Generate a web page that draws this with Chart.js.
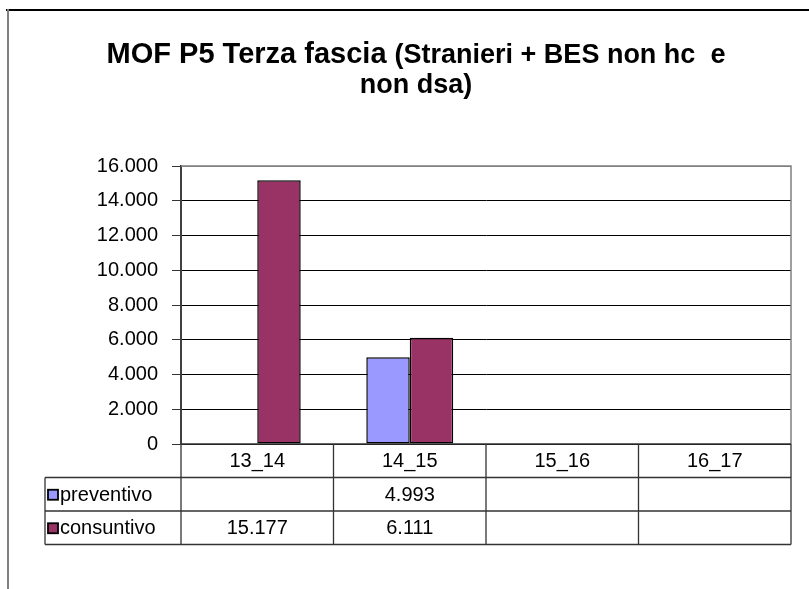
<!DOCTYPE html>
<html><head><meta charset="utf-8">
<script src="https://cdn.jsdelivr.net/npm/chart.js@4"></script>
<style>html,body{margin:0;padding:0;background:#fff}canvas{display:block}</style>
</head><body>
<div style="width:809px;height:589px"><canvas id="c" width="809" height="589"></canvas></div>
<script>
const categories = ['13_14', '14_15', '15_16', '16_17'];
const seriesNames = ['preventivo', 'consuntivo'];
const preventivo = [null, 4993, null, null];
const consuntivo = [15177, 6111, null, null];
const yMin = 0, yMax = 16000, yStep = 2000;
const titleBig = 'MOF P5 Terza fascia ';
const titleSmall = '(Stranieri + BES non hc  e';
const titleLine2 = 'non dsa)';
const colors = ['#9999FF', '#993366'];

const FONT = '"Liberation Sans", Arial, sans-serif';
function fmt(v) { if (v == null) return ''; return String(Math.round(v)).replace(/\B(?=(\d{3})+(?!\d))/g, '.'); }

const decor = {
  id: 'decor',
  beforeDraw(chart) {
    const ctx = chart.ctx;
    ctx.save();
    ctx.fillStyle = '#fff';
    ctx.fillRect(0, 0, chart.width, chart.height);
    // outer border
    ctx.strokeStyle = '#000'; ctx.lineWidth = 2;
    ctx.beginPath(); ctx.moveTo(6, 10); ctx.lineTo(chart.width, 10); ctx.stroke();
    ctx.strokeStyle = '#808080';
    ctx.beginPath(); ctx.moveTo(8, 9); ctx.lineTo(8, chart.height); ctx.stroke();
    // title
    ctx.fillStyle = '#000';
    ctx.textBaseline = 'alphabetic';
    ctx.font = 'bold 29px ' + FONT;
    const w1 = ctx.measureText(titleBig).width;
    ctx.font = 'bold 27px ' + FONT;
    const w2 = ctx.measureText(titleSmall).width;
    const cx = 416;
    let x = cx - (w1 + w2) / 2;
    ctx.textAlign = 'left';
    ctx.font = 'bold 29px ' + FONT;
    ctx.fillText(titleBig, x, 63);
    ctx.font = 'bold 27px ' + FONT;
    ctx.fillText(titleSmall, x + w1, 63);
    ctx.textAlign = 'center';
    ctx.fillText(titleLine2, cx, 93);
    ctx.restore();
  },
  afterDraw(chart) {
    const ctx = chart.ctx;
    const a = chart.chartArea;
    const xs = chart.scales.x;
    ctx.save();
    // plot area right/top border
    ctx.strokeStyle = '#808080'; ctx.lineWidth = 1.5;
    ctx.beginPath(); ctx.moveTo(a.left, a.top); ctx.lineTo(a.right, a.top); ctx.lineTo(a.right, a.bottom); ctx.stroke();
    // table
    const half = (xs.getPixelForValue(1) - xs.getPixelForValue(0)) / 2;
    const bounds = categories.map((c, i) => xs.getPixelForValue(i) - half);
    bounds.push(xs.getPixelForValue(categories.length - 1) + half);
    const rowH = 33.5;
    const top = a.bottom;
    const rows = [top, top + rowH, top + 2 * rowH, top + 3 * rowH];
    const tLeft = 45;
    ctx.strokeStyle = '#333'; ctx.lineWidth = 1.3;
    ctx.beginPath();
    ctx.moveTo(a.left, rows[0]); ctx.lineTo(bounds[bounds.length - 1], rows[0]);
    for (let r = 1; r < rows.length; r++) { ctx.moveTo(tLeft, rows[r]); ctx.lineTo(bounds[bounds.length - 1], rows[r]); }
    bounds.forEach(b => { ctx.moveTo(b, rows[0]); ctx.lineTo(b, rows[3]); });
    ctx.moveTo(tLeft, rows[1]); ctx.lineTo(tLeft, rows[3]);
    ctx.stroke();
    ctx.fillStyle = '#000';
    ctx.font = '20px ' + FONT;
    ctx.textBaseline = 'middle';
    ctx.textAlign = 'center';
    categories.forEach((c, i) => ctx.fillText(c, xs.getPixelForValue(i), (rows[0] + rows[1]) / 2 + 1));
    const series = [preventivo, consuntivo];
    series.forEach((s, si) => {
      const yc = (rows[si + 1] + rows[si + 2]) / 2 + 1;
      ctx.textAlign = 'center'; ctx.fillStyle = '#000';
      s.forEach((v, i) => { if (v != null) ctx.fillText(fmt(v), xs.getPixelForValue(i), yc); });
      ctx.fillStyle = colors[si];
      ctx.fillRect(48, yc - 5.5, 10, 10);
      ctx.strokeStyle = '#000'; ctx.lineWidth = 1.8;
      ctx.strokeRect(48, yc - 5.5, 10, 10);
      ctx.fillStyle = '#000'; ctx.textAlign = 'left';
      ctx.fillText(seriesNames[si], 60, yc);
    });
    ctx.restore();
  }
};

new Chart(document.getElementById('c'), {
  type: 'bar',
  data: {
    labels: categories,
    datasets: [
      { label: seriesNames[0], data: preventivo, backgroundColor: colors[0], borderColor: '#000', borderWidth: 1.5, borderSkipped: false },
      { label: seriesNames[1], data: consuntivo, backgroundColor: colors[1], borderColor: '#000', borderWidth: 1.5, borderSkipped: false }
    ]
  },
  options: {
    responsive: false,
    animation: false,
    events: [],
    categoryPercentage: 0.57,
    barPercentage: 1.0,
    layout: { padding: { left: 0, right: 18, top: 166, bottom: 145 } },
    plugins: { legend: { display: false }, title: { display: false }, tooltip: { enabled: false } },
    scales: {
      x: { display: false, offset: true },
      y: {
        min: yMin, max: yMax,
        afterFit(scale) { scale.width = 181; },
        ticks: { stepSize: yStep, color: '#000', padding: 14, font: { family: FONT, size: 20 }, callback: v => fmt(v) },
        grid: {
          color: ctx => (ctx.tick && ctx.tick.value === yMax) ? '#808080' : '#000',
          lineWidth: 1,
          drawTicks: true, tickLength: 9, tickColor: '#333'
        },
        border: { display: true, color: '#404040', width: 2 }
      }
    }
  },
  plugins: [decor]
});
</script>
</body></html>
